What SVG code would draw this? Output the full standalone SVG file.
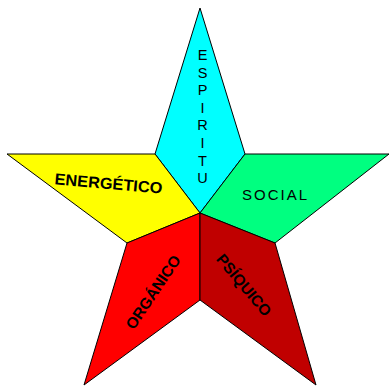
<svg xmlns="http://www.w3.org/2000/svg" width="390" height="387" viewBox="0 0 390 387">
<style>
.seg{stroke:#000;stroke-width:1;stroke-linejoin:miter}
.t{font-family:"Liberation Sans",Arial,sans-serif;fill:#000}
.b{font-weight:bold}
</style>
<rect width="390" height="387" fill="#fff"/>
<g id="espiritu">
<polygon class="seg" fill="#00FFFF" points="200,8 245,154 200,213 155,154"/>
<text class="t" font-size="14.5" text-anchor="middle" x="202.5">
<tspan x="202.5" y="60">E</tspan><tspan x="202.5" y="77.6">S</tspan><tspan x="202.5" y="95.2">P</tspan><tspan x="202.5" y="112.8">I</tspan><tspan x="202.5" y="130.4">R</tspan><tspan x="202.5" y="148">I</tspan><tspan x="202.5" y="165.6">T</tspan><tspan x="202.5" y="183.2">U</tspan>
</text>
</g>
<g id="energetico">
<polygon class="seg" fill="#FFFF00" points="155,154 7,154 127,243 200,213"/>
<text class="t b" font-size="16" text-anchor="middle" transform="translate(108,189) rotate(5)" x="0" y="0" textLength="108" lengthAdjust="spacingAndGlyphs">ENERGÉTICO</text>
</g>
<g id="social">
<polygon class="seg" fill="#00FF80" points="245,154 389,154 275,243 200,213"/>
<text class="t" font-size="15" x="242" y="200" letter-spacing="2">SOCIAL</text>
</g>
<g id="organico">
<polygon class="seg" fill="#FF0000" points="200,213 127,243 84,385 200,300"/>
<text class="t b" font-size="15.5" text-anchor="middle" transform="translate(153,292) rotate(-56)" x="0" y="5.5">ORGÁNICO</text>
</g>
<g id="psiquico">
<polygon class="seg" fill="#C00000" points="200,213 200,300 316,385 275,243"/>
<text class="t b" font-size="15.5" text-anchor="middle" transform="translate(244,285) rotate(50)" x="0" y="5.5">PSÍQUICO</text>
</g>
<g id="connectors"></g>
</svg>
